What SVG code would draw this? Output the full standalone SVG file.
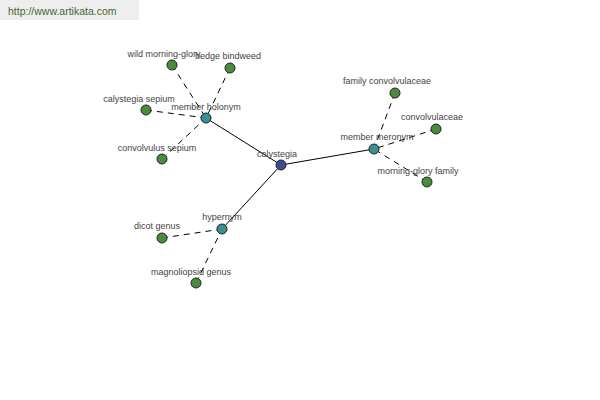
<svg xmlns="http://www.w3.org/2000/svg" width="600" height="400" viewBox="0 0 600 400">
<style>
.lbl{font-family:"Liberation Sans",Arial,sans-serif;font-size:9px;fill:#444;text-anchor:middle}
.solid{stroke:#000;stroke-width:1;fill:none}
.dash{stroke:#000;stroke-width:1;fill:none;stroke-dasharray:6,5}
.root{fill:#3f4a94;stroke:#222;stroke-width:1}
.hub{fill:#3a9090;stroke:#222;stroke-width:1}
.leaf{fill:#4a8c3c;stroke:#222;stroke-width:1}
</style>
<rect width="600" height="400" fill="#fff"/>
<rect x="0" y="0" width="139" height="20" fill="#eeeeee"/>
<text x="8" y="15" style="font-family:'Liberation Sans',Arial,sans-serif;font-size:10.5px;fill:#4a6535">http://www.artikata.com</text>
<g id="connectors">
<line class="solid" x1="281" y1="165" x2="206" y2="118"/>
<line class="solid" x1="281" y1="165" x2="374" y2="149"/>
<line class="solid" x1="281" y1="165" x2="222" y2="229"/>
<line class="dash" x1="172" y1="65" x2="206" y2="118"/>
<line class="dash" x1="230" y1="68" x2="206" y2="118"/>
<line class="dash" x1="146" y1="110" x2="206" y2="118"/>
<line class="dash" x1="162" y1="159" x2="206" y2="118"/>
<line class="dash" x1="395" y1="93" x2="374" y2="149"/>
<line class="dash" x1="436" y1="129" x2="374" y2="149"/>
<line class="dash" x1="427" y1="182" x2="374" y2="149"/>
<line class="dash" x1="162" y1="238" x2="222" y2="229"/>
<line class="dash" x1="196" y1="283" x2="222" y2="229"/>
</g>
<g id="n-calystegia"><circle class="root" cx="281" cy="165" r="5"/><text class="lbl" x="277" y="157">calystegia</text></g>
<g id="n-member-holonym"><circle class="hub" cx="206" cy="118" r="5"/><text class="lbl" x="206" y="110">member holonym</text></g>
<g id="n-member-meronym"><circle class="hub" cx="374" cy="149" r="5"/><text class="lbl" x="377" y="140">member meronym</text></g>
<g id="n-hypernym"><circle class="hub" cx="222" cy="229" r="5"/><text class="lbl" x="222" y="220">hypernym</text></g>
<g id="n-wild-morning-glory"><circle class="leaf" cx="172" cy="65" r="5"/><text class="lbl" x="164" y="57">wild morning-glory</text></g>
<g id="n-hedge-bindweed"><circle class="leaf" cx="230" cy="68" r="5"/><text class="lbl" x="228" y="59">hedge bindweed</text></g>
<g id="n-calystegia-sepium"><circle class="leaf" cx="146" cy="110" r="5"/><text class="lbl" x="139" y="102">calystegia sepium</text></g>
<g id="n-convolvulus-sepium"><circle class="leaf" cx="162" cy="159" r="5"/><text class="lbl" x="157" y="151">convolvulus sepium</text></g>
<g id="n-family-convolvulaceae"><circle class="leaf" cx="395" cy="93" r="5"/><text class="lbl" x="387" y="84">family convolvulaceae</text></g>
<g id="n-convolvulaceae"><circle class="leaf" cx="436" cy="129" r="5"/><text class="lbl" x="432" y="120">convolvulaceae</text></g>
<g id="n-morning-glory-family"><circle class="leaf" cx="427" cy="182" r="5"/><text class="lbl" x="418" y="174">morning-glory family</text></g>
<g id="n-dicot-genus"><circle class="leaf" cx="162" cy="238" r="5"/><text class="lbl" x="157" y="229">dicot genus</text></g>
<g id="n-magnoliopsid-genus"><circle class="leaf" cx="196" cy="283" r="5"/><text class="lbl" x="191" y="275">magnoliopsid genus</text></g>
</svg>
